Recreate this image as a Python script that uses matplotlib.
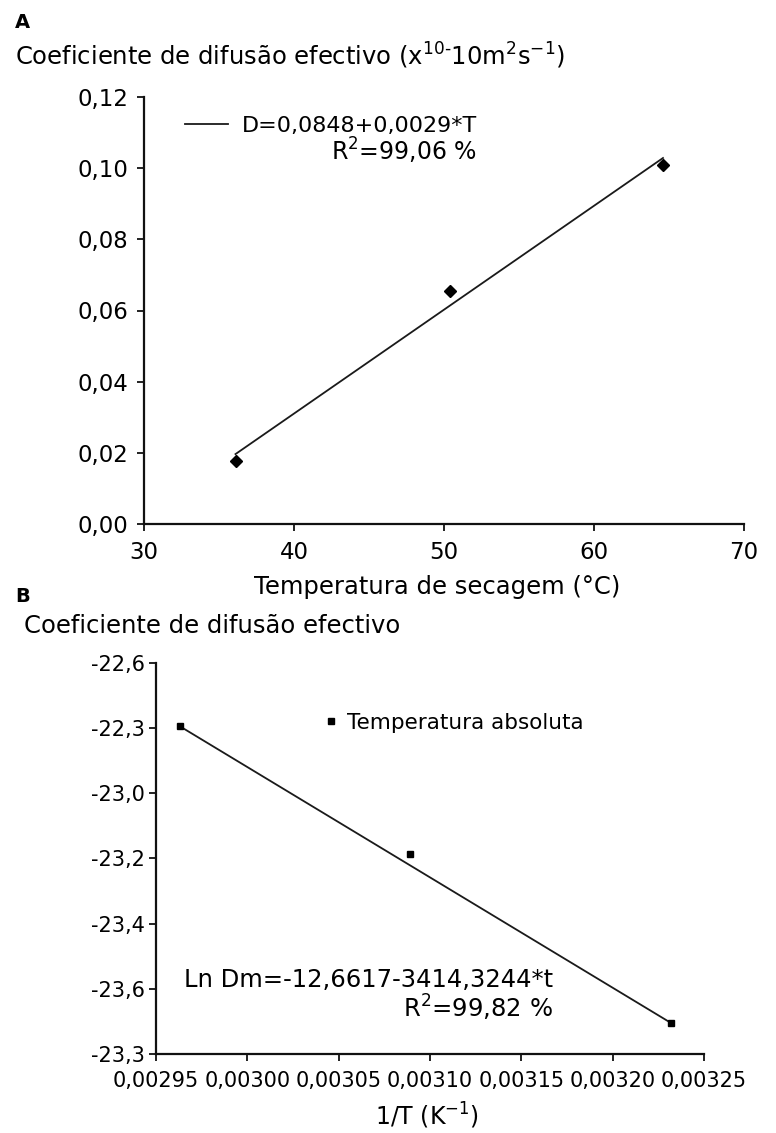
import numpy as np
import matplotlib
matplotlib.use('Agg')
import matplotlib.pyplot as plt

plt.rcParams['font.family'] = ['DejaVu Sans']
plt.rcParams['mathtext.default'] = 'regular'

# painel A - coeficiente vs temperatura de secagem
temp = [36.1, 50.4, 64.6]
coef = [0.0176, 0.0655, 0.1008]
xticks_a = [30, 40, 50, 60, 70]
yticks_a = [0.00, 0.02, 0.04, 0.06, 0.08, 0.10, 0.12]
ylabels_a = ['0,00', '0,02', '0,04', '0,06', '0,08', '0,10', '0,12']

# painel B - ln D vs 1/T
inv_t = [0.002963, 0.003089, 0.003232]
ln_d = [-22.794, -23.186, -23.705]
xticks_b = [0.00295, 0.00300, 0.00305, 0.00310, 0.00315, 0.00320, 0.00325]
xlabels_b = ['0,00295', '0,00300', '0,00305', '0,00310', '0,00315', '0,00320', '0,00325']
yticks_b = [-22.6, -22.8, -23.0, -23.2, -23.4, -23.6, -23.8]
ylabels_b = ['-22,6', '-22,3', '-23,0', '-23,2', '-23,4', '-23,6', '-23,3']

W, H = 776, 1133
fig = plt.figure(figsize=(W / 100, H / 100), dpi=100)


def box(l, t, r, b):
    return [l / W, 1 - b / H, (r - l) / W, (b - t) / H]


def px(x, y):
    return x / W, 1 - y / H


def style(ax):
    for s in ['top', 'right']:
        ax.spines[s].set_visible(False)
    for s in ['left', 'bottom']:
        ax.spines[s].set_linewidth(1.6)
        ax.spines[s].set_color('#111111')


# ---- A ----
axA = fig.add_axes(box(144, 97, 744, 524))
style(axA)
axA.set_xlim(30, 70)
axA.set_ylim(0, 0.12)
axA.set_xticks(xticks_a)
axA.set_xticklabels([str(v) for v in xticks_a])
axA.set_yticks(yticks_a)
axA.set_yticklabels(ylabels_a)
axA.tick_params(axis='both', labelsize=16.5, length=5, width=1.3, color='#111111')
axA.tick_params(axis='y', pad=6)
axA.tick_params(axis='x', pad=7)

p = np.polyfit(temp, coef, 1)
xs = np.array([temp[0], temp[-1]])
axA.plot(xs, np.polyval(p, xs), color='#1a1a1a', lw=1.3, label='D=0,0848+0,0029*T')
axA.plot(temp, coef, 'D', color='black', markersize=6, ls='none')
axA.legend(loc='center left', bbox_to_anchor=px(185, 126), bbox_transform=fig.transFigure,
           frameon=False, fontsize=16, borderpad=0, borderaxespad=0,
           handlelength=1.95, handletextpad=0.62)
fig.text(*px(477, 161), 'R$^2$=99,06 %', fontsize=17, ha='right', va='baseline')

fig.text(*px(15, 28), 'A', fontsize=14, fontweight='bold', va='baseline')
fig.text(*px(15, 65), 'Coeficiente de difusão efectivo (x$^{10\\text{-}}$10m$^2$s$^{-1}$)',
         fontsize=17.5, va='baseline')
fig.text(*px(437, 594), 'Temperatura de secagem (°C)', fontsize=17.5, ha='center', va='baseline')

# ---- B ----
axB = fig.add_axes(box(156, 663, 704, 1054))
style(axB)
axB.set_xlim(0.00295, 0.00325)
axB.set_ylim(-23.8, -22.6)
axB.set_xticks(xticks_b)
axB.set_xticklabels(xlabels_b)
axB.set_yticks(yticks_b)
axB.set_yticklabels(ylabels_b)
axB.tick_params(axis='both', labelsize=15, length=5, width=1.3, color='#111111')
axB.tick_params(axis='y', pad=3)
axB.tick_params(axis='x', pad=7)

axB.plot([inv_t[0], inv_t[-1]], [ln_d[0], ln_d[-1]], color='#1a1a1a', lw=1.3)
axB.plot(inv_t, ln_d, 's', color='black', markersize=5, ls='none', label='Temperatura absoluta')
axB.legend(loc='center left', bbox_to_anchor=px(323, 723), bbox_transform=fig.transFigure,
           frameon=False, fontsize=15.5, borderpad=0, borderaxespad=0,
           handlelength=0.75, handletextpad=0.35)
fig.text(*px(553, 987), 'Ln Dm=-12,6617-3414,3244*t', fontsize=17.5, ha='right', va='baseline')
fig.text(*px(553, 1018), 'R$^2$=99,82 %', fontsize=17.5, ha='right', va='baseline')

fig.text(*px(15, 602), 'B', fontsize=14, fontweight='bold', va='baseline')
fig.text(*px(24, 633), 'Coeficiente de difusão efectivo', fontsize=17.5, va='baseline')
fig.text(*px(427, 1125), '1/T (K$^{-1}$)', fontsize=17, ha='center', va='baseline')

fig.savefig('out.png', dpi=100)
